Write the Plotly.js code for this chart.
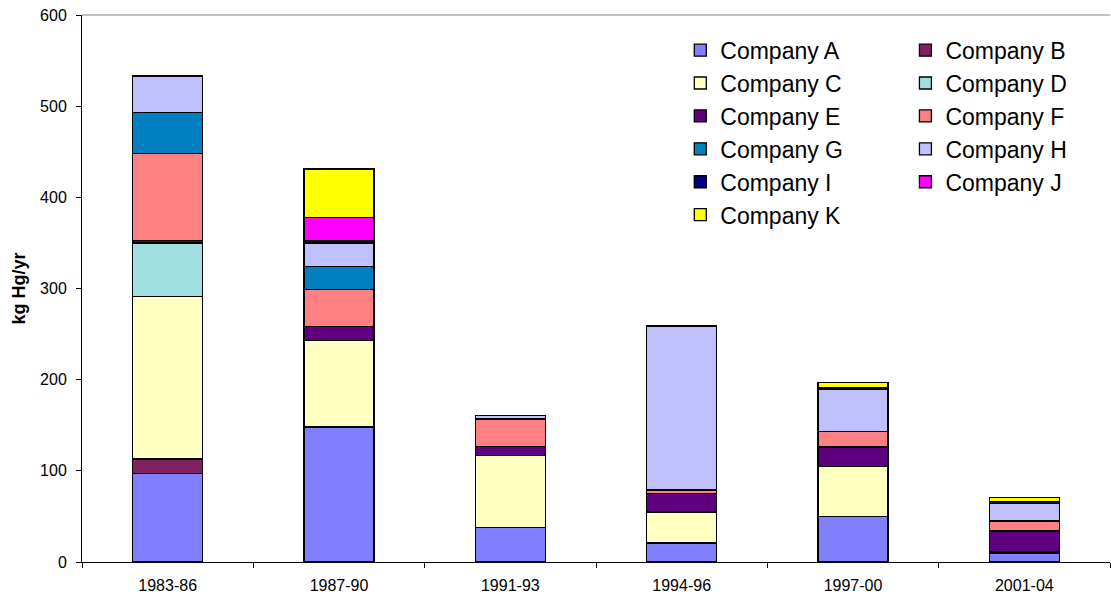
<!DOCTYPE html>
<html>
<head>
<meta charset="utf-8">
<script src="https://cdn.plot.ly/plotly-3.0.1.min.js"></script>
<style>html,body{margin:0;padding:0;background:#fff;}#chart{width:1111px;height:597px;}</style>
</head>
<body>
<div id="chart"></div>
<script>
const periods = ["1983-86", "1987-90", "1991-93", "1994-96", "1997-00", "2001-04"];
const companyA = [97, 148, 38, 21, 50, 9];
const companyB = [16, 0, 0, 0, 0, 0];
const companyC = [178, 95, 79, 34, 55, 2];
const companyD = [59, 0, 0, 0, 0, 0];
const companyE = [3, 15, 10, 20, 21, 23];
const companyF = [95, 41, 30, 4, 17, 11];
const companyG = [45, 25, 0, 0, 0, 0];
const companyH = [40, 26, 4, 180, 46, 19];
const companyI = [0, 3, 0, 0, 2, 2];
const companyJ = [0, 25, 0, 0, 0, 0];
const companyK = [0, 53, 0, 0, 6, 5];
const names = ["Company A","Company B","Company C","Company D","Company E","Company F","Company G","Company H","Company I","Company J","Company K"];
const colors = ["#8080FF","#802060","#FFFFC0","#A0E0E0","#600080","#FF8080","#0080C0","#C0C0FF","#000080","#FF00FF","#FFFF00"];
const series = [companyA, companyB, companyC, companyD, companyE, companyF, companyG, companyH, companyI, companyJ, companyK];

const traces = series.map((vals, i) => ({
  type: "bar",
  name: names[i],
  x: periods,
  y: vals,
  marker: {color: colors[i], line: {color: "#000000", width: 1.3}},
  legend: (i % 2 === 0) ? "legend" : "legend2",
  hoverinfo: "x+y+name"
}));

const fontFam = "Arial, 'Liberation Sans', sans-serif";
const layout = {
  width: 1111, height: 597,
  margin: {l: 82, r: 1, t: 15, b: 35},
  barmode: "stack",
  bargap: 0.59,
  paper_bgcolor: "#ffffff",
  plot_bgcolor: "#ffffff",
  font: {family: fontFam, color: "#000000"},
  xaxis: {
    type: "category",
    automargin: false,
    showline: true, linecolor: "#000000", linewidth: 1,
    ticks: "outside", tickson: "boundaries", ticklen: 5, tickcolor: "#000000",
    tickfont: {size: 16, family: fontFam},
    ticklabelstandoff: 9,
    showgrid: false, zeroline: false
  },
  yaxis: {
    range: [0, 600], dtick: 100,
    automargin: false,
    showline: true, linecolor: "#000000", linewidth: 1,
    ticks: "outside", ticklen: 5, tickcolor: "#000000",
    tickfont: {size: 16, family: fontFam},
    ticklabelstandoff: 6,
    showgrid: false, zeroline: false,
    title: {text: "<b>kg Hg/yr</b>", font: {size: 18, family: fontFam}, standoff: 9}
  },
  legend: {
    x: 0.582, y: 0.975, xanchor: "left", yanchor: "top",
    bgcolor: "rgba(0,0,0,0)", borderwidth: 0,
    font: {size: 23, family: fontFam}, traceorder: "normal"
  },
  legend2: {
    x: 0.801, y: 0.975, xanchor: "left", yanchor: "top",
    bgcolor: "rgba(0,0,0,0)", borderwidth: 0,
    font: {size: 23, family: fontFam}, traceorder: "normal"
  },
  shapes: [{type: "line", xref: "paper", yref: "paper", x0: 0, x1: 1, y0: 1, y1: 1, line: {color: "#808080", width: 1}}],
  showlegend: true
};

Plotly.newPlot("chart", traces, layout, {displayModeBar: false, staticPlot: true});
</script>
</body>
</html>
